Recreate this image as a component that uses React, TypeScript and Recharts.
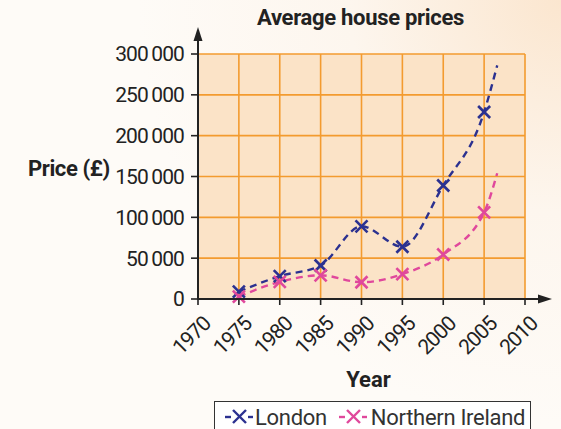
import React from 'react';
import { LineChart, Line, XAxis, YAxis, CartesianGrid, Label } from 'recharts';

document.body.style.margin = '0';

// last entry is where the dashed curve runs on past 2005 (no cross drawn there)
const years = [1975, 1980, 1985, 1990, 1995, 2000, 2005, 2006.6];
const london = [9000, 28000, 41000, 89000, 64000, 139000, 229000, 286000];
const northernIreland = [3000, 21000, 29000, 20500, 30500, 54500, 106000, 154000];
const markedPoints = 7;

const xTicks = [1970, 1975, 1980, 1985, 1990, 1995, 2000, 2005, 2010];
const yTicks = [0, 50000, 100000, 150000, 200000, 250000, 300000];

const LONDON = '#2b3190';
const IRELAND = '#e0489c';
const GRID = '#f39b2f';
const PLOT_BG = '#fbe3c7';
const FONT = 'Roboto, "Liberation Sans", sans-serif';

const data = years.map((year, i) => ({
  year,
  london: london[i],
  northernIreland: northernIreland[i],
}));

const fmt = (v: number) => v.toLocaleString('en-US').replace(/,/g, '\u2009');

function Cross({ cx, cy, index, color }: any) {
  if (index >= markedPoints || cx == null) return <g key={`c${index}`} />;
  const s = 6;
  return (
    <g key={`c${index}`} stroke={color} strokeWidth={2.6}>
      <line x1={cx - s} y1={cy - s} x2={cx + s} y2={cy + s} />
      <line x1={cx - s} y1={cy + s} x2={cx + s} y2={cy - s} />
    </g>
  );
}

function YearTick({ x, y, payload }: any) {
  const ax = x + 14;
  const ay = y + 18;
  return (
    <text
      x={ax}
      y={ay}
      transform={`rotate(-45 ${ax} ${ay})`}
      textAnchor="end"
      fontSize={21}
      fontFamily={FONT}
      letterSpacing={-0.9}
      fill="#222"
    >
      {payload.value}
    </text>
  );
}

function LegendIcon({ color }: { color: string }) {
  return (
    <svg width={28} height={16} style={{ marginRight: 2 }}>
      <g stroke={color} strokeWidth={2.4}>
        <line x1={0} y1={8} x2={6} y2={8} />
        <line x1={8} y1={1} x2={21} y2={14} />
        <line x1={8} y1={14} x2={21} y2={1} />
        <line x1={23} y1={8} x2={28} y2={8} />
      </g>
    </svg>
  );
}

export default function App() {
  return (
    <div
      style={{
        position: 'relative',
        width: 561,
        height: 429,
        overflow: 'hidden',
        fontFamily: FONT,
        background: 'radial-gradient(circle at 100% 0%, #fbe6cf 0%, #fdf6ee 30%, #fefbf7 60%)',
      }}
    >
      <div
        style={{
          position: 'absolute',
          left: 0,
          width: 721,
          top: 5,
          textAlign: 'center',
          fontWeight: 'bold',
          fontSize: 22,
          letterSpacing: -0.3,
          color: '#222',
        }}
      >
        Average house prices
      </div>

      <LineChart width={561} height={429} data={data} margin={{ top: 54, right: 36, bottom: 42, left: 0 }}>
        <CartesianGrid
          stroke={GRID}
          strokeWidth={1.6}
          fill={PLOT_BG}
          fillOpacity={1}
          horizontalValues={yTicks}
          verticalValues={xTicks}
        />
        <XAxis
          dataKey="year"
          type="number"
          domain={[1970, 2010]}
          ticks={xTicks}
          interval={0}
          height={88}
          axisLine={false}
          tickLine={{ stroke: '#222', strokeWidth: 1.6 }}
          tickSize={6}
          tick={<YearTick />}
        >
          <Label value="Year" position="insideBottom" offset={0} dx={7} fontSize={22} fontWeight="bold" fill="#222" fontFamily={FONT} />
        </XAxis>
        <YAxis
          type="number"
          domain={[0, 300000]}
          ticks={yTicks}
          interval={0}
          width={198}
          axisLine={false}
          tickLine={{ stroke: '#222', strokeWidth: 1.6 }}
          tickSize={7}
          tickMargin={7}
          tickFormatter={fmt}
          tick={{ fontSize: 21, fill: '#222', fontFamily: FONT, letterSpacing: -0.9 }}
        >
          <Label value="Price (£)" position="insideLeft" offset={28} dy={-8} fontSize={22} fontWeight="bold" letterSpacing={-0.4} fill="#222" fontFamily={FONT} />
        </YAxis>
        <Line
          dataKey="london"
          name="London"
          type="monotone"
          stroke={LONDON}
          strokeWidth={2.4}
          strokeDasharray="7 5"
          dot={(p: any) => <Cross {...p} color={LONDON} />}
          activeDot={false}
          isAnimationActive={false}
        />
        <Line
          dataKey="northernIreland"
          name="Northern Ireland"
          type="monotone"
          stroke={IRELAND}
          strokeWidth={2.4}
          strokeDasharray="7 5"
          dot={(p: any) => <Cross {...p} color={IRELAND} />}
          activeDot={false}
          isAnimationActive={false}
        />
      </LineChart>

      {/* axis arrows */}
      <svg width={561} height={429} style={{ position: 'absolute', left: 0, top: 0, pointerEvents: 'none' }}>
        <line x1={198} y1={300} x2={198} y2={36} stroke="#222" strokeWidth={2} />
        <polygon points="198,27 193.5,41 202.5,41" fill="#222" />
        <line x1={197} y1={299} x2={544} y2={299} stroke="#222" strokeWidth={2} />
        <polygon points="552,299 538,294.5 538,303.5" fill="#222" />
      </svg>

      <div
        style={{
          position: 'absolute',
          left: 214,
          top: 401,
          width: 317,
          height: 34,
          border: '1.5px solid #333',
          display: 'flex',
          alignItems: 'center',
          paddingLeft: 10,
          paddingBottom: 2,
          boxSizing: 'border-box',
          fontSize: 22,
          letterSpacing: -0.3,
          color: '#333',
          background: '#fff',
        }}
      >
        <LegendIcon color={LONDON} />
        <span style={{ marginRight: 12 }}>London</span>
        <LegendIcon color={IRELAND} />
        <span style={{ marginLeft: 2 }}>Northern Ireland</span>
      </div>
    </div>
  );
}
